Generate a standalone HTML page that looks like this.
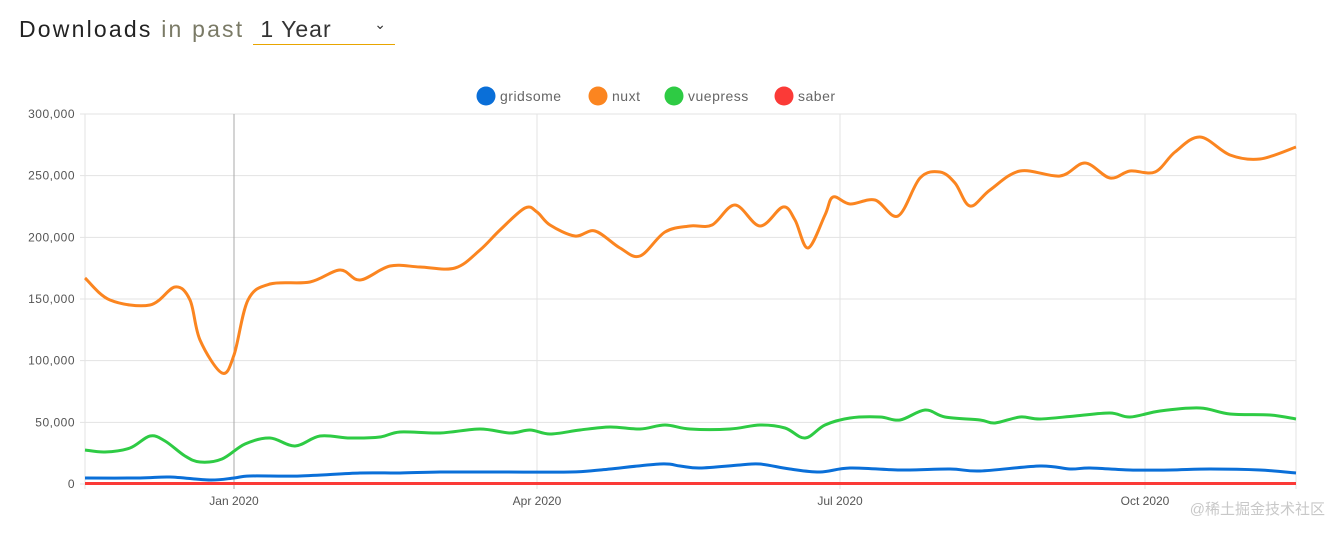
<!DOCTYPE html>
<html><head><meta charset="utf-8"><style>
body{margin:0;width:1342px;height:537px;background:#fff;overflow:hidden;font-family:"Liberation Sans",sans-serif}
.h{position:absolute;left:19px;top:16px;font-size:23px;letter-spacing:2.2px;color:#222;white-space:nowrap}
.h .g{color:#7a7a66}
.sel{position:absolute;left:253px;top:16px;width:142px;height:28px;border-bottom:1px solid #e8a500;font-size:23px;color:#333;letter-spacing:1px;white-space:nowrap}
</style></head><body>
<div class="h">Downloads <span class="g">in past</span></div>
<div class="sel">&nbsp;1 Year<span style="position:absolute;right:8px;top:0px;font-size:14px">⌄</span></div>
<svg id="s" width="1342" height="537" style="position:absolute;left:0;top:0" font-family="Liberation Sans, sans-serif"></svg>
<script>
const s=document.getElementById('s');let h='';
const Y=v=>484-v/300000*370;
for(let i=0;i<=6;i++){const y=Y(i*50000);h+=`<line x1="80" x2="1296" y1="${y}" y2="${y}" stroke="#e3e3e3"/>`;
h+=`<text x="75" y="${y+4}" text-anchor="end" font-size="12" fill="#555" letter-spacing="0.5">${(i*50000).toLocaleString('en-US')}</text>`;}
[85,537,840,1145,1296].forEach(x=>h+=`<line x1="${x}" x2="${x}" y1="114" y2="489" stroke="#e3e3e3"/>`);
h+=`<line x1="234" x2="234" y1="114" y2="489" stroke="#aaa"/>`;
[[234,'Jan 2020'],[537,'Apr 2020'],[840,'Jul 2020'],[1145,'Oct 2020']].forEach(([x,t])=>h+=`<text x="${x}" y="505" text-anchor="middle" font-size="12" fill="#555">${t}</text>`);
[[486,'#0a6fd8','gridsome'],[598,'#fb8520','nuxt'],[674,'#2ecb44','vuepress'],[784,'#fb3a37','saber']].forEach(([x,c,t])=>{h+=`<circle cx="${x}" cy="96" r="9.5" fill="${c}"/><text x="${x+14}" y="101" font-size="14" fill="#666" letter-spacing="0.5">${t}</text>`});
function path(p){let d=`M${p[0][0]},${p[0][1]}`;for(let i=0;i<p.length-1;i++){const a=p[Math.max(i-1,0)],b=p[i],c=p[i+1],e=p[Math.min(i+2,p.length-1)];
d+=`C${b[0]+(c[0]-a[0])/6},${b[1]+(c[1]-a[1])/6} ${c[0]-(e[0]-b[0])/6},${c[1]-(e[1]-b[1])/6} ${c[0]},${c[1]}`;}return d;}
const nuxt=[[85,278],[110,300],[150,305],[175,287],[190,300],[200,340],[222,373],[234,355],[248,300],[270,284],[310,282],[340,270],[360,280],[390,266],[420,267],[455,268],[480,250],[500,230],[525,208],[537,212],[550,225],[575,236],[595,231],[620,248],[640,256],[665,232],[690,226],[712,225],[735,205],[760,226],[783,207],[795,220],[808,248],[825,215],[833,197],[850,204],[875,200],[898,216],[920,178],[940,172],[955,183],[970,206],[990,190],[1020,171],[1060,176],[1085,163],[1110,178],[1130,171],[1155,172],[1175,152],[1200,137],[1230,155],[1260,159],[1296,147]];
const vue=[[85,450],[105,452],[130,448],[150,436],[165,441],[185,456],[200,462],[222,459],[245,444],[270,438],[295,446],[320,436],[350,438],[380,437],[400,432],[440,433],[480,429],[510,433],[530,430],[550,434],[580,430],[610,427],[640,429],[665,425],[690,429],[730,429],[760,425],[785,428],[805,438],[825,425],[850,418],[880,417],[900,420],[925,410],[945,417],[980,420],[995,423],[1020,417],[1040,419],[1075,416],[1110,413],[1130,417],[1160,411],[1200,408],[1230,414],[1270,415],[1296,419]];
const grid=[[85,478],[140,478],[170,477],[210,480],[234,478],[250,476],[300,476],[360,473],[400,473],[440,472],[500,472],[570,472],[600,470],[660,464],[680,466],[700,468],[740,465],[760,464],[790,469],[820,472],[850,468],[900,470],[950,469],[980,471],[1040,466],[1070,469],[1090,468],[1130,470],[1170,470],[1210,469],[1260,470],[1296,473]];
const saber=[[85,483.5],[1296,483.5]];
[[saber,'#fb3a37'],[grid,'#0a6fd8'],[vue,'#2ecb44'],[nuxt,'#fb8520']].forEach(([p,c])=>h+=`<path d="${path(p)}" fill="none" stroke="${c}" stroke-width="3"/>`);
h+=`<text x="1325" y="514" text-anchor="end" font-size="15" fill="#c8c8c8" font-family="Liberation Sans, Noto Sans CJK SC, sans-serif">@稀土掘金技术社区</text>`;
s.innerHTML=h;
</script>
</body></html>
